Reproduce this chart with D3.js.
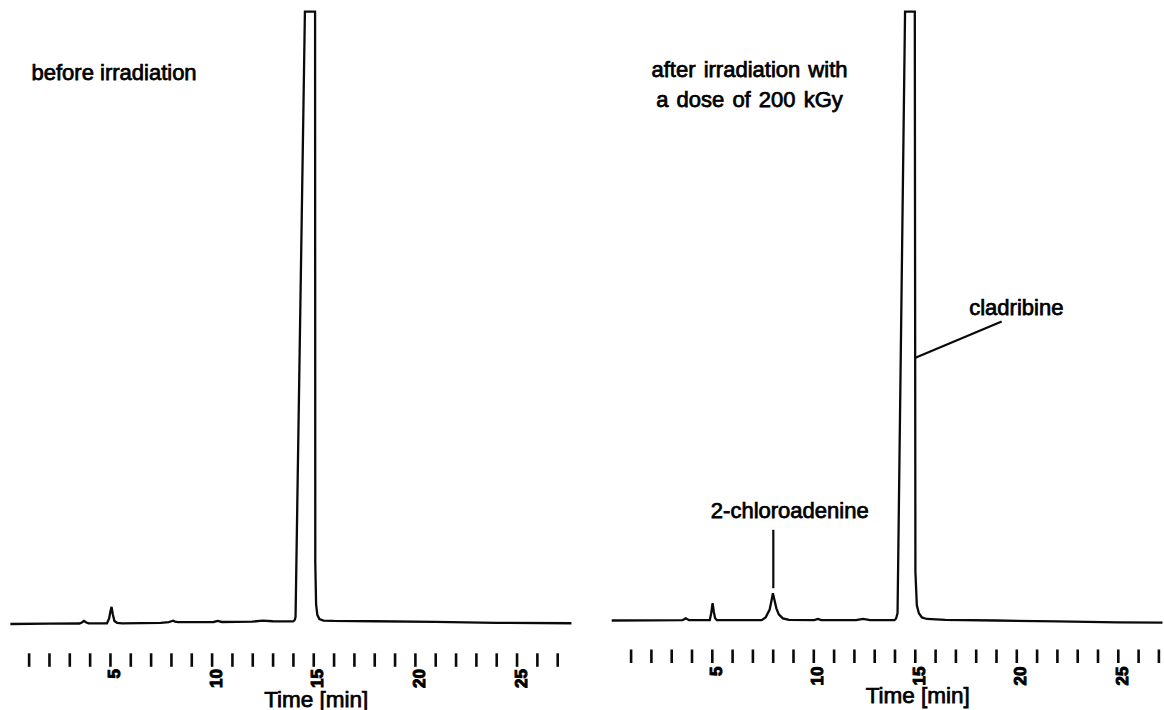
<!DOCTYPE html>
<html>
<head>
<meta charset="utf-8">
<script src="https://cdn.jsdelivr.net/npm/d3@7"></script>
<style>
  html, body { margin: 0; padding: 0; background: #fff; }
  svg { display: block; }
  text { font-family: "Liberation Sans", Arial, sans-serif; fill: #000; }
</style>
</head>
<body>
<svg id="chart" width="1164" height="710"></svg>
<script>
// ---------- DATA ----------
// retention time (min) / detector signal (% of full scale, 100 = off-scale)
const beforeTime = [0.1, 2.0, 3.5, 3.62, 3.72, 3.84, 3.95, 4.85, 4.96, 5.02, 5.08, 5.14, 5.22, 5.35, 5.6, 7.5, 7.9, 8.02, 8.1, 8.2, 8.35, 9.0, 10.1, 10.3, 10.5, 12.0, 12.5, 13.0, 14.0, 14.06, 14.1, 14.13, 14.59, 15.09, 15.1, 15.14, 15.2, 15.3, 15.5, 16.0, 18.0, 21.0, 24.0, 27.7];
const beforeSignal = [0.0, 0.05, 0.08, 0.25, 0.5, 0.25, 0.1, 0.1, 0.9, 2.0, 2.8, 1.6, 0.5, 0.2, 0.1, 0.2, 0.3, 0.45, 0.55, 0.4, 0.3, 0.3, 0.33, 0.5, 0.33, 0.38, 0.55, 0.45, 0.43, 0.55, 0.75, 1.2, 100, 100, 10, 3.2, 1.5, 0.8, 0.55, 0.5, 0.45, 0.35, 0.2, 0.12];

const afterTime = [0.07, 2.0, 3.55, 3.72, 3.88, 4.9, 4.97, 5.04, 5.1, 5.16, 5.25, 7.45, 7.65, 7.85, 7.95, 8.01, 8.07, 8.18, 8.3, 8.5, 8.8, 10.05, 10.22, 10.4, 12.1, 12.45, 12.8, 14.0, 14.06, 14.1, 14.15, 14.52, 15.0, 15.03, 15.1, 15.2, 15.35, 15.6, 16.5, 19.0, 22.0, 25.0, 27.2];
const afterSignal = [0.0, 0.02, 0.05, 0.35, 0.05, 0.05, 1.2, 2.83, 1.4, 0.4, 0.05, 0.05, 0.5, 1.8, 3.4, 4.47, 3.6, 2.0, 1.0, 0.35, 0.1, 0.05, 0.25, 0.05, 0.05, 0.25, 0.05, 0.05, 0.25, 0.6, 1.2, 100, 100, 8, 2.5, 1.2, 0.5, 0.25, 0.1, 0.0, -0.15, -0.3, -0.35];

// axis ticks
const minorTicks = d3.range(1, 28);
const labelledTicks = [5, 10, 15, 20, 25];
const axisTitle = "Time [min]";

// panel titles
const beforeTitle = ["before irradiation"];
const afterTitle = ["after irradiation with", "a dose of 200 kGy"];

// peak annotations (data coords): label, peak point, label-end point, text point
const afterLabels = ["2-chloroadenine", "cladribine"];
const afterLabelPeakT = [8.03, 15.0];
const afterLabelPeakV = [5.3, 43.1];
const afterLabelLineT = [8.03, 19.28];
const afterLabelLineV = [14.9, 49.1];
const afterLabelTextT = [8.84, 17.68];
const afterLabelTextV = [16.8, 50.2];

// ---------- DRAW ----------
const svg = d3.select("#chart");
const INK = "#0a0a0a";
const TEXT_STROKE = 0.75;

function panel(opts) {
  const x = d3.scaleLinear().domain([0, 28]).range(opts.xRange);
  const y = d3.scaleLinear().domain([0, 100]).range(opts.yRange);
  const g = svg.append("g");

  const pts = opts.time.map((t, i) => [t, opts.signal[i]]);
  g.append("path")
    .datum(pts)
    .attr("fill", "none")
    .attr("stroke", INK)
    .attr("stroke-width", 2.3)
    .attr("stroke-linejoin", "miter")
    .attr("d", d3.line().x(d => x(d[0])).y(d => y(d[1])));

  // axis
  const axis = d3.axisBottom(x)
    .tickValues(minorTicks)
    .tickSize(13.5)
    .tickFormat(d => labelledTicks.includes(d) ? d : "");
  const ag = g.append("g")
    .attr("transform", `translate(0,${opts.axisY})`)
    .call(axis);
  ag.attr("font-size", 17).attr("font-family", '"Liberation Sans", Arial, sans-serif');
  ag.select(".domain").remove();
  ag.selectAll(".tick line").attr("stroke", INK).attr("stroke-width", 2.6);
  ag.selectAll(".tick text")
    .attr("y", null).attr("x", null).attr("dy", null)
    .attr("transform", `translate(0,${opts.labelY - opts.axisY}) rotate(-90)`)
    .attr("text-anchor", "end")
    .attr("dy", "9.5px")
    .attr("font-size", 17)
    .attr("font-weight", "bold")
    .attr("fill", "#000")
    .attr("stroke", "#000")
    .attr("stroke-width", 1.0);

  g.append("text")
    .attr("x", x(15) + 3)
    .attr("y", opts.titleY)
    .attr("text-anchor", "middle")
    .attr("font-size", 22.5)
    .attr("stroke", "#000").attr("stroke-width", TEXT_STROKE)
    .text(axisTitle);

  return { g, x, y };
}

// left panel
const L = panel({
  time: beforeTime, signal: beforeSignal,
  xRange: [8.3, 8.3 + 28 * 20.33], yRange: [624, 11.7],
  axisY: 653.3, labelY: 669, titleY: 706.5
});
L.g.append("text")
  .attr("x", 31.5).attr("y", 80)
  .attr("font-size", 22)
  .attr("stroke", "#000").attr("stroke-width", TEXT_STROKE)
  .text(beforeTitle[0]);

// right panel
const R = panel({
  time: afterTime, signal: afterSignal,
  xRange: [610.3, 610.3 + 28 * 20.3], yRange: [620.5, 11.7],
  axisY: 649.5, labelY: 666.5, titleY: 703
});
R.g.selectAll(".ptitle")
  .data(afterTitle)
  .join("text")
  .attr("x", 749.5)
  .attr("y", (d, i) => 76.7 + i * 30)
  .attr("text-anchor", "middle")
  .attr("font-size", 22)
  .attr("word-spacing", 2)
  .attr("stroke", "#000").attr("stroke-width", TEXT_STROKE)
  .text(d => d);

afterLabels.forEach((lab, i) => {
  R.g.append("line")
    .attr("x1", R.x(afterLabelPeakT[i])).attr("y1", R.y(afterLabelPeakV[i]))
    .attr("x2", R.x(afterLabelLineT[i])).attr("y2", R.y(afterLabelLineV[i]))
    .attr("stroke", INK).attr("stroke-width", 2.2);
  R.g.append("text")
    .attr("x", R.x(afterLabelTextT[i]))
    .attr("y", R.y(afterLabelTextV[i]))
    .attr("text-anchor", i === 0 ? "middle" : "start")
    .attr("font-size", 22)
    .attr("stroke", "#000").attr("stroke-width", TEXT_STROKE)
    .text(lab);
});
</script>
</body>
</html>
